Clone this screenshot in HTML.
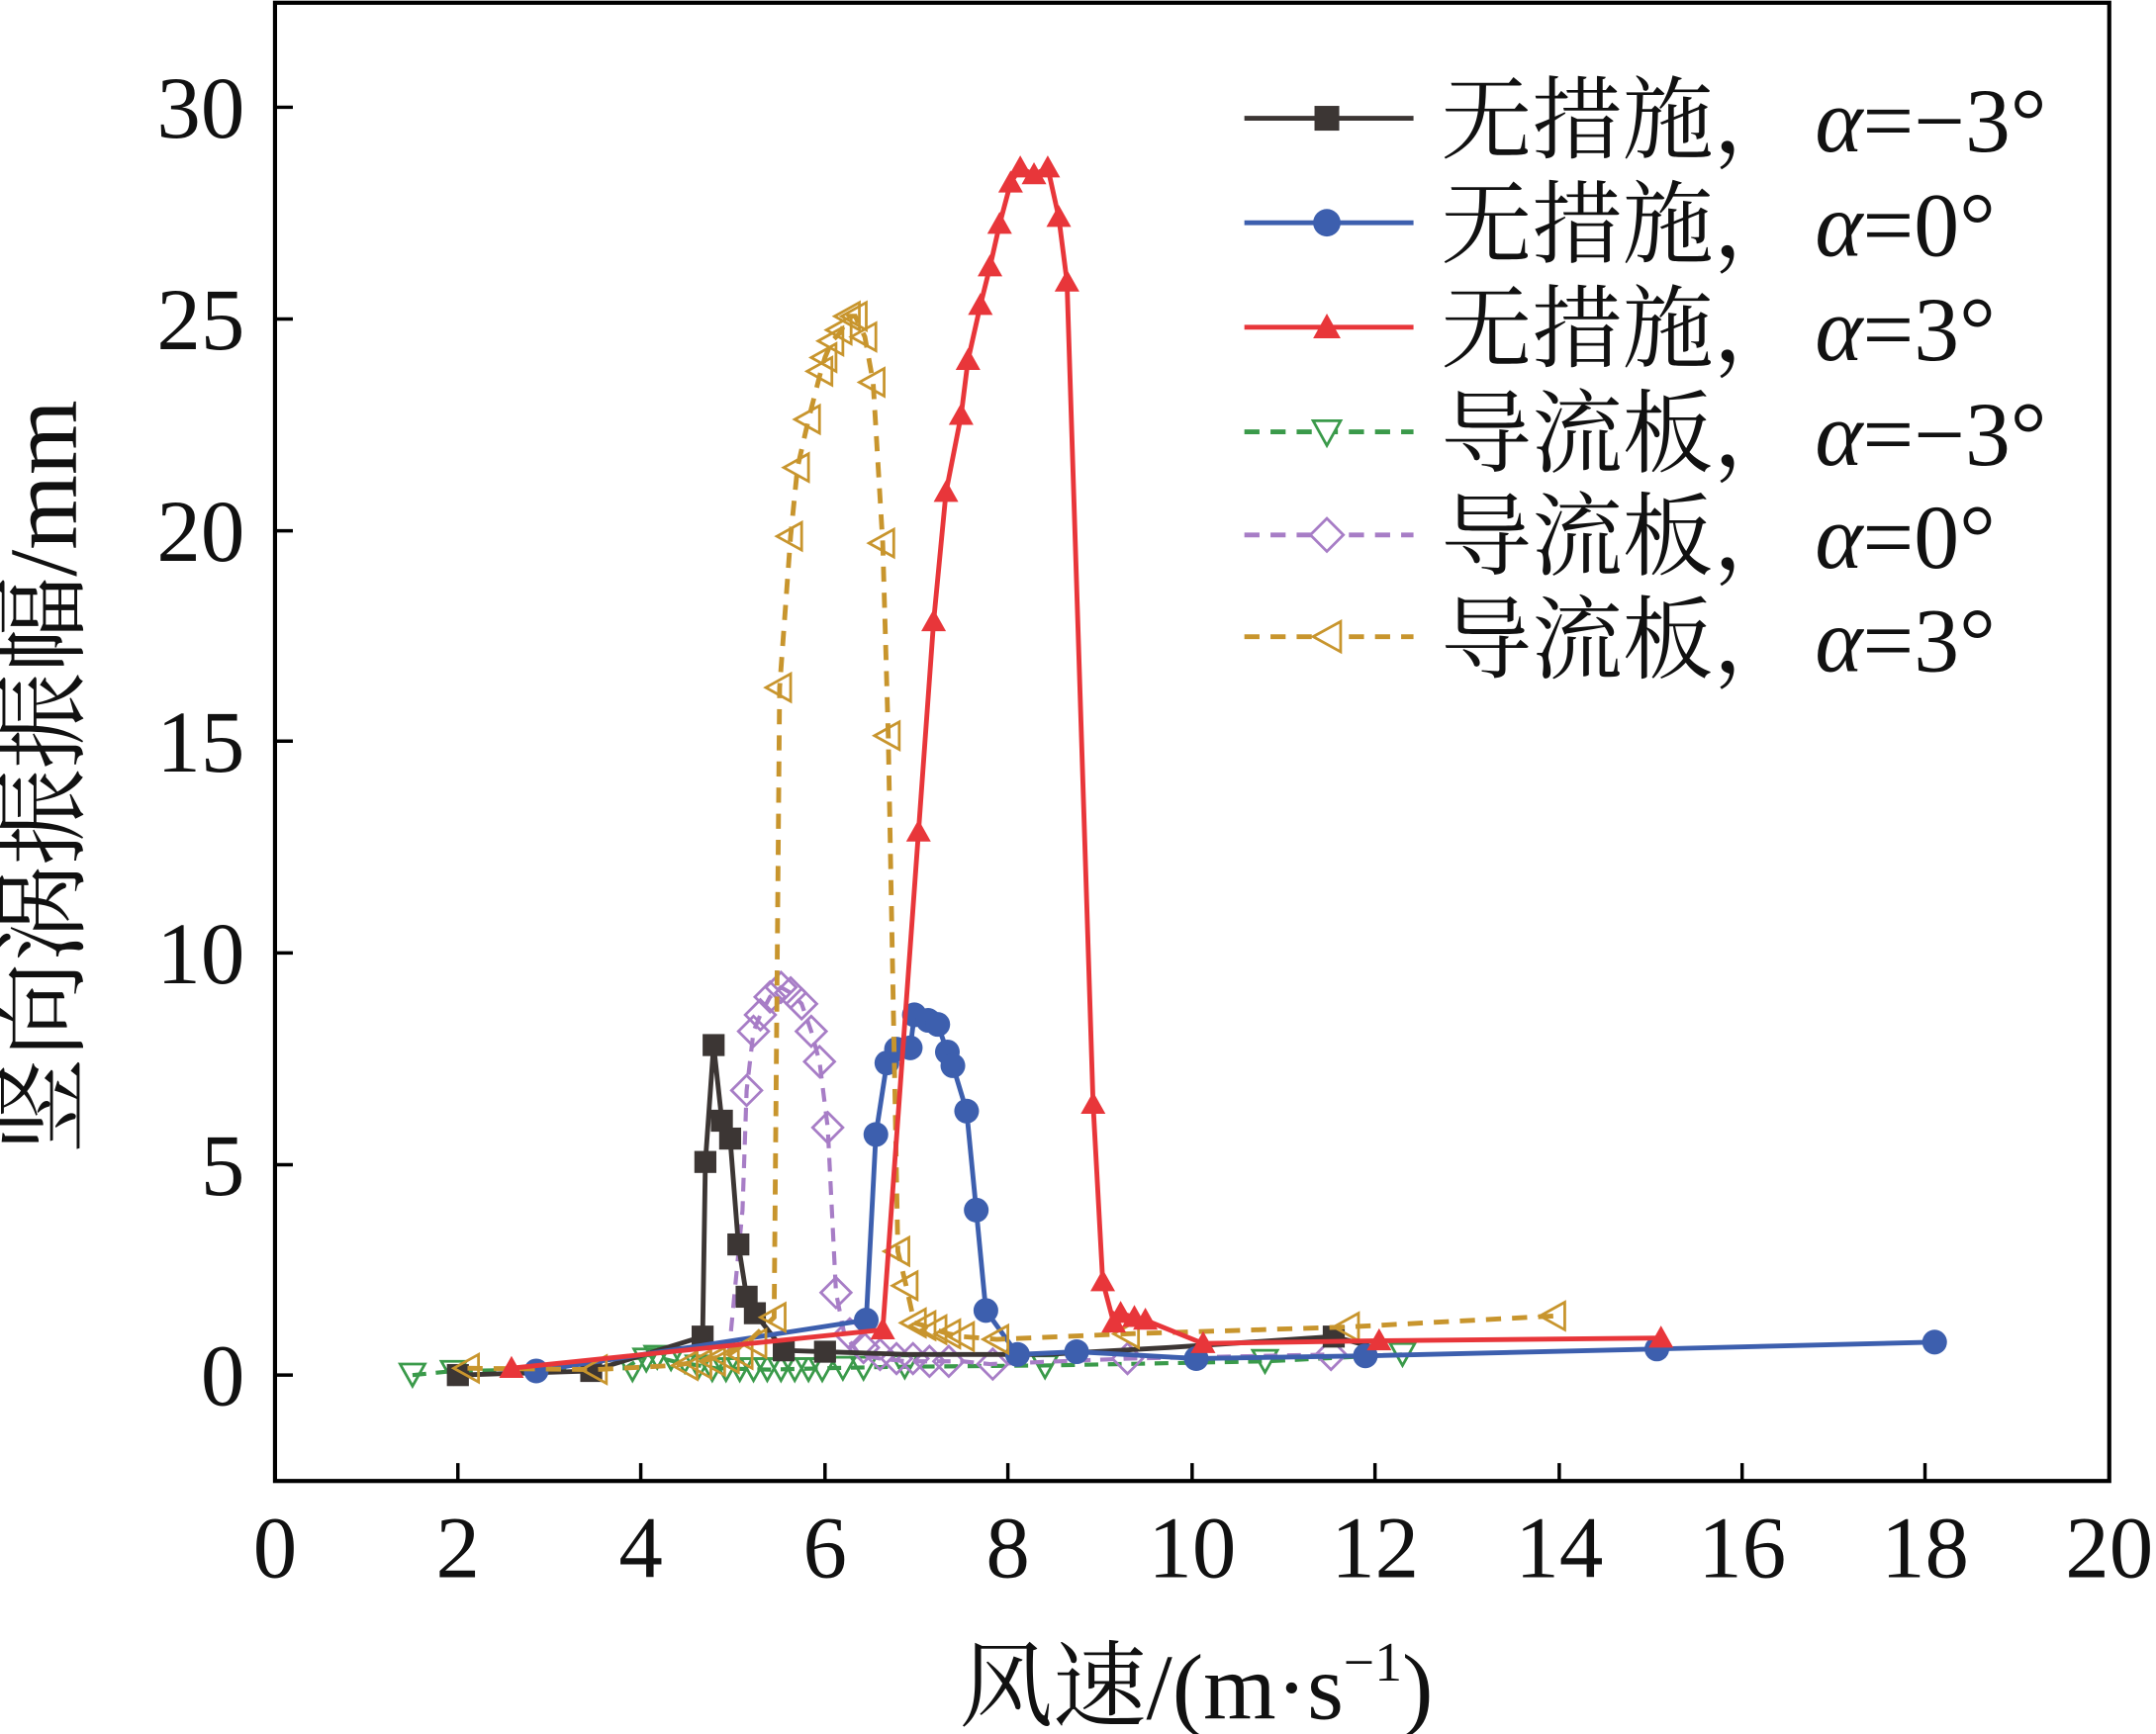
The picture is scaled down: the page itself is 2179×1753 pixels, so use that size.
<!DOCTYPE html>
<html><head><meta charset="utf-8"><style>html,body{margin:0;padding:0;background:#fff}svg{display:block}</style></head><body>
<svg width="2179" height="1753" viewBox="0 0 1568 1261" preserveAspectRatio="none" xmlns="http://www.w3.org/2000/svg" font-family="'Liberation Serif','Noto Serif CJK SC',serif">
<rect x="0" y="0" width="1568" height="1261" fill="#fff"/>
<rect x="200" y="2" width="1334" height="1075" fill="none" stroke="#000" stroke-width="3"/>
<g stroke="#000" stroke-width="2.5">
<line x1="333" y1="1077" x2="333" y2="1064"/><line x1="466" y1="1077" x2="466" y2="1064"/><line x1="600" y1="1077" x2="600" y2="1064"/><line x1="733" y1="1077" x2="733" y2="1064"/><line x1="867" y1="1077" x2="867" y2="1064"/><line x1="1000" y1="1077" x2="1000" y2="1064"/><line x1="1134" y1="1077" x2="1134" y2="1064"/><line x1="1267" y1="1077" x2="1267" y2="1064"/><line x1="1400" y1="1077" x2="1400" y2="1064"/>
<line x1="200" y1="1000" x2="213" y2="1000"/><line x1="200" y1="847" x2="213" y2="847"/><line x1="200" y1="693" x2="213" y2="693"/><line x1="200" y1="539" x2="213" y2="539"/><line x1="200" y1="386" x2="213" y2="386"/><line x1="200" y1="232" x2="213" y2="232"/><line x1="200" y1="78" x2="213" y2="78"/>
</g>
<g font-size="64" text-anchor="end" fill="#111">
<text x="178" y="1022">0</text><text x="178" y="869">5</text><text x="178" y="715">10</text><text x="178" y="561">15</text><text x="178" y="408">20</text><text x="178" y="254">25</text><text x="178" y="100">30</text>
</g>
<g font-size="64" text-anchor="middle" fill="#111">
<text x="200" y="1147">0</text><text x="333" y="1147">2</text><text x="466" y="1147">4</text><text x="600" y="1147">6</text><text x="733" y="1147">8</text><text x="867" y="1147">10</text><text x="1000" y="1147">12</text><text x="1134" y="1147">14</text><text x="1267" y="1147">16</text><text x="1400" y="1147">18</text><text x="1534" y="1147">20</text>
</g>
<text x="870" y="1250" font-size="68" text-anchor="middle" fill="#111">风速/(m·s<tspan font-size="40" dy="-28">−1</tspan><tspan dy="28">)</tspan></text>
<text transform="translate(55,565) rotate(-90)" font-size="70" text-anchor="middle" fill="#111">竖向涡振振幅/mm</text>

<g fill="none" stroke="#3a9a4a" stroke-width="2">
<polyline stroke-width="3" stroke-dasharray="10,7" points="300,1000 330,997 455,995 470,985 490,990 520,995 560,996 600,995 650,994 760,993 920,990 1020,985"/>
<g>
<path d="M291,992 h18 l-9,16z"/><path d="M321,990 h18 l-9,16z"/><path d="M451,988 h18 l-9,16z"/><path d="M461,981 h18 l-9,16z"/><path d="M469,979 h18 l-9,16z"/><path d="M479,980 h18 l-9,16z"/><path d="M489,982 h18 l-9,16z"/><path d="M499,986 h18 l-9,16z"/><path d="M509,988 h18 l-9,16z"/><path d="M519,988 h18 l-9,16z"/><path d="M529,988 h18 l-9,16z"/><path d="M539,988 h18 l-9,16z"/><path d="M549,988 h18 l-9,16z"/><path d="M559,988 h18 l-9,16z"/><path d="M569,988 h18 l-9,16z"/><path d="M579,988 h18 l-9,16z"/><path d="M589,988 h18 l-9,16z"/><path d="M604,987 h18 l-9,16z"/><path d="M619,987 h18 l-9,16z"/><path d="M649,986 h18 l-9,16z"/><path d="M751,986 h18 l-9,16z"/><path d="M911,982 h18 l-9,16z"/><path d="M1011,977 h18 l-9,16z"/>
</g></g>

<g fill="none" stroke="#a77dc6" stroke-width="2">
<polyline stroke-width="3" stroke-dasharray="10,7" points="530,985 540,880 543,793 548,750 553,738 560,725 568,718 575,722 583,730 590,750 596,772 602,820 608,940 614,970 625,985 640,988 660,990 700,990 720,992 820,988 970,985"/>
<g>
<path d="M543,782 l11,11 -11,11 -11,-11z"/><path d="M548,739 l11,11 -11,11 -11,-11z"/><path d="M553,727 l11,11 -11,11 -11,-11z"/><path d="M560,714 l11,11 -11,11 -11,-11z"/><path d="M568,707 l11,11 -11,11 -11,-11z"/><path d="M575,711 l11,11 -11,11 -11,-11z"/><path d="M583,719 l11,11 -11,11 -11,-11z"/><path d="M590,739 l11,11 -11,11 -11,-11z"/><path d="M596,761 l11,11 -11,11 -11,-11z"/><path d="M602,809 l11,11 -11,11 -11,-11z"/><path d="M608,929 l11,11 -11,11 -11,-11z"/><path d="M618,959 l11,11 -11,11 -11,-11z"/><path d="M628,969 l11,11 -11,11 -11,-11z"/><path d="M640,974 l11,11 -11,11 -11,-11z"/><path d="M652,977 l11,11 -11,11 -11,-11z"/><path d="M664,977 l11,11 -11,11 -11,-11z"/><path d="M676,979 l11,11 -11,11 -11,-11z"/><path d="M690,979 l11,11 -11,11 -11,-11z"/><path d="M722,981 l11,11 -11,11 -11,-11z"/><path d="M820,977 l11,11 -11,11 -11,-11z"/><path d="M968,974 l11,11 -11,11 -11,-11z"/>
</g></g>

<g>
<polyline fill="none" stroke="#3c3634" stroke-width="3.5" points="333,1000 430,997 511,972 513,845 519,760 525,815 531,828 537,905 543,943 549,955 570,982 600,983 660,985 760,985 850,980 970,972 1000,980"/>
<g fill="#3c3634">
<rect x="325" y="992" width="16" height="16"/><rect x="422" y="989" width="16" height="16"/><rect x="503" y="964" width="16" height="16"/><rect x="505" y="837" width="16" height="16"/><rect x="511" y="752" width="16" height="16"/><rect x="517" y="807" width="16" height="16"/><rect x="523" y="820" width="16" height="16"/><rect x="529" y="897" width="16" height="16"/><rect x="535" y="935" width="16" height="16"/><rect x="541" y="947" width="16" height="16"/><rect x="562" y="974" width="16" height="16"/><rect x="592" y="975" width="16" height="16"/><rect x="962" y="964" width="16" height="16"/>
</g></g>

<g>
<polyline fill="none" stroke="#3d5fae" stroke-width="3.5" points="390,997 630,960 637,825 645,773 652,763 662,762 665,738 675,742 682,745 689,765 693,775 703,808 710,880 717,953 740,985 783,983 870,988 993,986 1205,981 1407,976"/>
<g fill="#3d5fae">
<circle cx="390" cy="997" r="9"/><circle cx="630" cy="960" r="9"/><circle cx="637" cy="825" r="9"/><circle cx="645" cy="773" r="9"/><circle cx="652" cy="763" r="9"/><circle cx="662" cy="762" r="9"/><circle cx="665" cy="738" r="9"/><circle cx="675" cy="742" r="9"/><circle cx="682" cy="745" r="9"/><circle cx="689" cy="765" r="9"/><circle cx="693" cy="775" r="9"/><circle cx="703" cy="808" r="9"/><circle cx="710" cy="880" r="9"/><circle cx="717" cy="953" r="9"/><circle cx="740" cy="985" r="9"/><circle cx="783" cy="983" r="9"/><circle cx="870" cy="988" r="9"/><circle cx="993" cy="986" r="9"/><circle cx="1205" cy="981" r="9"/><circle cx="1407" cy="976" r="9"/>
</g></g>

<g fill="none" stroke="#c8952d" stroke-width="2">
<polyline stroke-width="3.5" stroke-dasharray="11,8" points="340,995 433,996 490,993 510,990 530,985 545,975 563,958 567,500 575,390 580,340 588,305 597,270 600,260 605,248 611,242 617,230 622,230 629,245 635,278 642,395 646,535 653,910 659,935 665,962 672,964 680,967 690,970 700,972 725,974 820,970 980,965 1130,957"/>
<g>
<path d="M330,995 l18,-10 v20z"/><path d="M423,996 l18,-10 v20z"/><path d="M489,993 l18,-10 v20z"/><path d="M499,992 l18,-10 v20z"/><path d="M509,990 l18,-10 v20z"/><path d="M519,988 l18,-10 v20z"/><path d="M529,985 l18,-10 v20z"/><path d="M539,977 l18,-10 v20z"/><path d="M553,958 l18,-10 v20z"/><path d="M557,500 l18,-10 v20z"/><path d="M565,390 l18,-10 v20z"/><path d="M570,340 l18,-10 v20z"/><path d="M578,305 l18,-10 v20z"/><path d="M587,270 l18,-10 v20z"/><path d="M590,260 l18,-10 v20z"/><path d="M595,248 l18,-10 v20z"/><path d="M601,240 l18,-10 v20z"/><path d="M607,230 l18,-10 v20z"/><path d="M612,230 l18,-10 v20z"/><path d="M619,245 l18,-10 v20z"/><path d="M625,278 l18,-10 v20z"/><path d="M632,395 l18,-10 v20z"/><path d="M636,535 l18,-10 v20z"/><path d="M643,910 l18,-10 v20z"/><path d="M649,935 l18,-10 v20z"/><path d="M655,962 l18,-10 v20z"/><path d="M662,964 l18,-10 v20z"/><path d="M670,967 l18,-10 v20z"/><path d="M680,970 l18,-10 v20z"/><path d="M690,972 l18,-10 v20z"/><path d="M715,974 l18,-10 v20z"/><path d="M810,970 l18,-10 v20z"/><path d="M970,965 l18,-10 v20z"/><path d="M1120,957 l18,-10 v20z"/>
</g></g>

<g>
<polyline fill="none" stroke="#e8363a" stroke-width="3.5" points="372,995 642,967 668,605 679,452 688,358 699,302 704,262 713,222 720,194 727,163 735,133 742,122 752,127 762,122 770,158 776,205 795,803 802,932 810,962 815,955 825,958 833,960 875,977 1003,975 1208,973"/>
<g fill="#e8363a">
<path d="M363,1002 h18 l-9,-16z"/><path d="M633,974 h18 l-9,-16z"/><path d="M659,612 h18 l-9,-16z"/><path d="M670,459 h18 l-9,-16z"/><path d="M679,365 h18 l-9,-16z"/><path d="M690,309 h18 l-9,-16z"/><path d="M695,269 h18 l-9,-16z"/><path d="M704,229 h18 l-9,-16z"/><path d="M711,201 h18 l-9,-16z"/><path d="M718,170 h18 l-9,-16z"/><path d="M726,140 h18 l-9,-16z"/><path d="M733,129 h18 l-9,-16z"/><path d="M743,134 h18 l-9,-16z"/><path d="M753,129 h18 l-9,-16z"/><path d="M761,165 h18 l-9,-16z"/><path d="M767,212 h18 l-9,-16z"/><path d="M786,810 h18 l-9,-16z"/><path d="M793,939 h18 l-9,-16z"/><path d="M801,969 h18 l-9,-16z"/><path d="M806,962 h18 l-9,-16z"/><path d="M816,965 h18 l-9,-16z"/><path d="M824,967 h18 l-9,-16z"/><path d="M866,984 h18 l-9,-16z"/><path d="M994,982 h18 l-9,-16z"/><path d="M1199,980 h18 l-9,-16z"/>
</g></g>

<g>
<line x1="905" y1="86" x2="1028" y2="86" stroke="#3c3634" stroke-width="3.5"/><rect x="956" y="77" width="18" height="18" fill="#3c3634"/>
<line x1="905" y1="162" x2="1028" y2="162" stroke="#3d5fae" stroke-width="3.5"/><circle cx="965" cy="162" r="10" fill="#3d5fae"/>
<line x1="905" y1="238" x2="1028" y2="238" stroke="#e8363a" stroke-width="3.5"/><path d="M955,246 h20 l-10,-18z" fill="#e8363a"/>
<line x1="905" y1="314" x2="1028" y2="314" stroke="#3a9a4a" stroke-width="3.5" stroke-dasharray="11,8"/><path d="M955,306 h20 l-10,18z" fill="#fff" stroke="#3a9a4a" stroke-width="2"/>
<line x1="905" y1="389" x2="1028" y2="389" stroke="#a77dc6" stroke-width="3.5" stroke-dasharray="11,8"/><path d="M965,377 l12,12 -12,12 -12,-12z" fill="#fff" stroke="#a77dc6" stroke-width="2"/>
<line x1="905" y1="463" x2="1028" y2="463" stroke="#c8952d" stroke-width="3.5" stroke-dasharray="11,8"/><path d="M955,463 l20,-11 v22z" fill="#fff" stroke="#c8952d" stroke-width="2"/>
</g>
<g font-size="66" fill="#111">
<text x="1048" y="110">无措施，<tspan x="1320" font-style="italic">α</tspan>=−3°</text>
<text x="1048" y="186">无措施，<tspan x="1320" font-style="italic">α</tspan>=0°</text>
<text x="1048" y="262">无措施，<tspan x="1320" font-style="italic">α</tspan>=3°</text>
<text x="1048" y="338">导流板，<tspan x="1320" font-style="italic">α</tspan>=−3°</text>
<text x="1048" y="413">导流板，<tspan x="1320" font-style="italic">α</tspan>=0°</text>
<text x="1048" y="488">导流板，<tspan x="1320" font-style="italic">α</tspan>=3°</text>
</g>
</svg>
</body></html>
